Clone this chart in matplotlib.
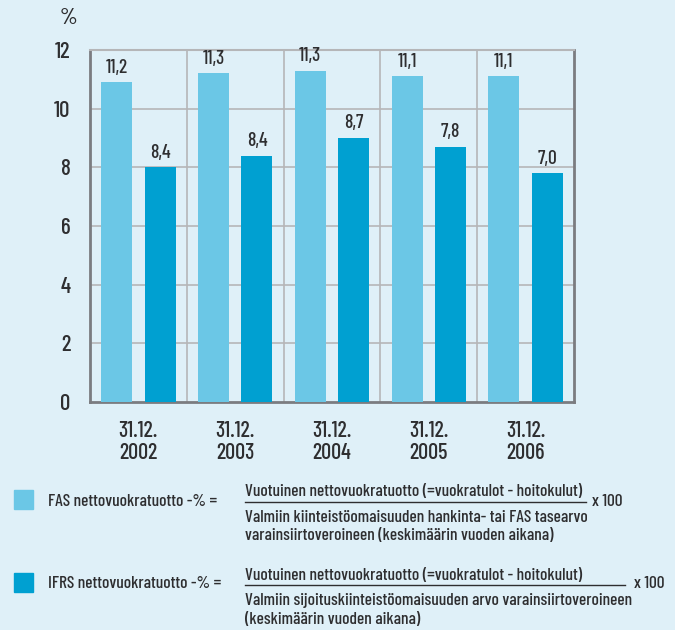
import matplotlib
matplotlib.use('Agg')
import matplotlib.pyplot as plt
from matplotlib import font_manager as fm
from matplotlib.lines import Line2D
from matplotlib.patches import Rectangle

# data
dates = ['31.12.\n2002', '31.12.\n2003', '31.12.\n2004', '31.12.\n2005', '31.12.\n2006']
fas_heights = [10.9, 11.2, 11.3, 11.1, 11.1]
ifrs_heights = [8.0, 8.4, 9.0, 8.7, 7.8]
fas_labels = ['11,2', '11,3', '11,3', '11,1', '11,1']
ifrs_labels = ['8,4', '8,4', '8,7', '7,8', '7,0']
y_ticks = [0, 2, 4, 6, 8, 10, 12]

bg = '#dff0f8'
fas_color = '#6bc7e6'
ifrs_color = '#00a0d1'
txt = '#2e2e30'
grid = '#b5b6b8'
dark = '#7b7c80'

# condensed face if there is one, else a plain one a bit smaller
have = {f.name for f in fm.fontManager.ttflist}
if 'Barlow Condensed' in have:
    plt.rcParams['font.family'] = ['Barlow Condensed', 'DejaVu Sans']
    plt.rcParams['font.weight'] = 500
    k = 1.0
else:
    plt.rcParams['font.family'] = ['Liberation Sans', 'DejaVu Sans']
    k = 0.72

W, H = 675, 630
fig = plt.figure(figsize=(W / 100, H / 100), dpi=100, facecolor=bg)
ax = fig.add_axes([90 / W, 1 - 402 / H, (574 - 90) / W, (402 - 50) / H])
ax.set_facecolor(bg)

x = list(range(len(dates)))
bw = 0.32
off = 0.225
ax.bar([i - off for i in x], fas_heights, width=bw, color=fas_color, zorder=3)
ax.bar([i + off for i in x], ifrs_heights, width=bw, color=ifrs_color, zorder=3)

for i in x:
    ax.annotate(fas_labels[i], (i - off, fas_heights[i]), xytext=(0, 4),
                textcoords='offset points', ha='center', va='bottom',
                fontsize=14 * k, color=txt)
    ax.annotate(ifrs_labels[i], (i + off, ifrs_heights[i]), xytext=(0, 4),
                textcoords='offset points', ha='center', va='bottom',
                fontsize=14 * k, color=txt)

ax.set_xlim(-0.5, len(dates) - 0.5)
ax.set_ylim(0, 12)
ax.set_yticks(y_ticks)
ax.set_yticklabels([str(t) for t in y_ticks], fontsize=16.5 * k, color=txt)
ax.set_xticks(x)
ax.set_xticklabels(dates, fontsize=16 * k, color=txt, linespacing=1.1)
ax.tick_params(length=0)
ax.tick_params(axis='y', pad=14)
ax.tick_params(axis='x', pad=14)

for t in y_ticks[1:-1]:
    ax.axhline(t, color=grid, lw=1.2, zorder=1)
for i in x[:-1]:
    ax.axvline(i + 0.5, color=grid, lw=1.2, zorder=1)

for side in ['left', 'bottom', 'right']:
    ax.spines[side].set_color(dark)
    ax.spines[side].set_linewidth(2)
ax.spines['top'].set_color(grid)
ax.spines['top'].set_linewidth(1.5)

fig.text(68 / W, 1 - 18 / H, '%', fontsize=16.5 * k, color=txt, ha='center', va='center')


def px(xp, yp):
    return xp / W, 1 - yp / H


# legend / formula area
fs = 12.5 * k
for col, y0, name, num_end, x100, den in [
    (fas_color, 490, 'FAS nettovuokratuotto -% =', 586, 592,
     ['Valmiin kiinteistöomaisuuden hankinta- tai FAS tasearvo',
      'varainsiirtoveroineen (keskimäärin vuoden aikana)']),
    (ifrs_color, 573, 'IFRS nettovuokratuotto -% =', 625, 634,
     ['Valmiin sijoituskiinteistöomaisuuden arvo varainsiirtoveroineen',
      '(keskimäärin vuoden aikana)']),
]:
    fig.patches.append(Rectangle(px(14, y0 + 19), 19 / W, 19 / H,
                                 transform=fig.transFigure, color=col))
    fig.text(*px(48, y0 + 11), name, fontsize=fs, color=txt, va='center')
    fig.text(*px(245, y0 + 2), 'Vuotuinen nettovuokratuotto (=vuokratulot - hoitokulut)',
             fontsize=fs, color=txt, va='center')
    xs, ys = px(245, y0 + 12)
    xe, _ = px(num_end, y0 + 12)
    fig.lines.append(Line2D([xs, xe], [ys, ys], transform=fig.transFigure,
                            color=txt, lw=1))
    fig.text(*px(x100, y0 + 11), 'x 100', fontsize=fs, color=txt, va='center')
    fig.text(*px(245, y0 + 27), den[0], fontsize=fs, color=txt, va='center')
    fig.text(*px(245, y0 + 46), den[1], fontsize=fs, color=txt, va='center')

fig.savefig('out.png', dpi=100, facecolor=bg)
